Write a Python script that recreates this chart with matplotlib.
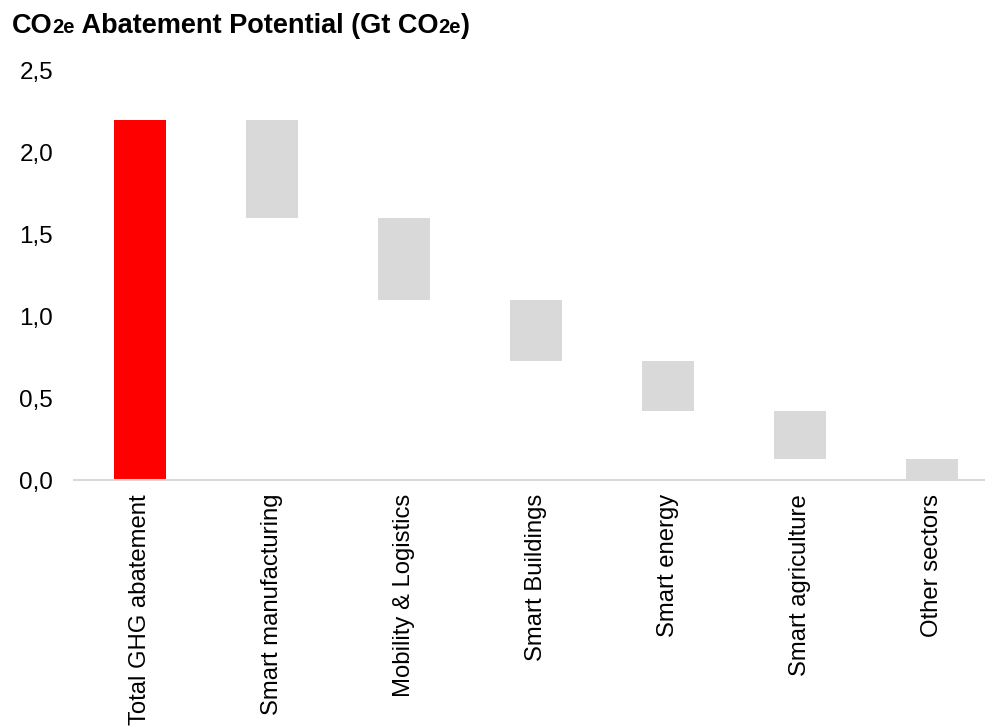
import matplotlib
matplotlib.use("Agg")
import matplotlib.pyplot as plt
from matplotlib.ticker import FixedLocator, FixedFormatter

plt.rcParams['font.family'] = ['Liberation Sans', 'DejaVu Sans']

categories = ["Total GHG abatement", "Smart manufacturing", "Mobility & Logistics",
              "Smart Buildings", "Smart energy", "Smart agriculture", "Other sectors"]
total = 2.2
contributions = [0.6, 0.5, 0.37, 0.31, 0.29, 0.13]
yticks = [0.0, 0.5, 1.0, 1.5, 2.0, 2.5]
ytick_labels = ["0,0", "0,5", "1,0", "1,5", "2,0", "2,5"]

fig = plt.figure(figsize=(9.85, 7.28), dpi=100)
ax = fig.add_axes([74/985, 1-480/728, 1-74/985, (480-71)/728])

width = 0.394
ax.bar(0, total, width=width, color="#FF0000")
level = total
for i, c in enumerate(contributions, start=1):
    ax.bar(i, c, bottom=level - c, width=width, color="#D9D9D9")
    level -= c

ax.set_xlim(-0.5, 6.4)
ax.set_ylim(0, 2.5)
ax.yaxis.set_major_locator(FixedLocator(yticks))
ax.yaxis.set_major_formatter(FixedFormatter(ytick_labels))
ax.set_xticks(range(len(categories)))
ax.set_xticklabels(categories, rotation=90, va="top", ha="center")
ax.tick_params(axis="both", length=0, colors="black")
ax.tick_params(axis="y", pad=15, labelsize=17.5)
ax.tick_params(axis="x", pad=10, labelsize=17.2)
for s in ["top", "right", "left"]:
    ax.spines[s].set_visible(False)
ax.spines["bottom"].set_color("#D9D9D9")
ax.spines["bottom"].set_linewidth(1.5)

# Title with smaller "2e"
pieces = [("CO", 19.5), ("2e", 14.6), (" Abatement Potential (Gt CO", 19.5), ("2e", 14.6), (")", 19.5)]
fig.canvas.draw()
renderer = fig.canvas.get_renderer()
x = 12
y_base = 728 - 33
for txt, size in pieces:
    t = fig.text(x / 985, y_base / 728, txt, fontsize=size, fontweight="bold",
                 va="baseline", ha="left", color="black")
    bb = t.get_window_extent(renderer=renderer)
    x = bb.x1

fig.savefig("out.png", dpi=100)
